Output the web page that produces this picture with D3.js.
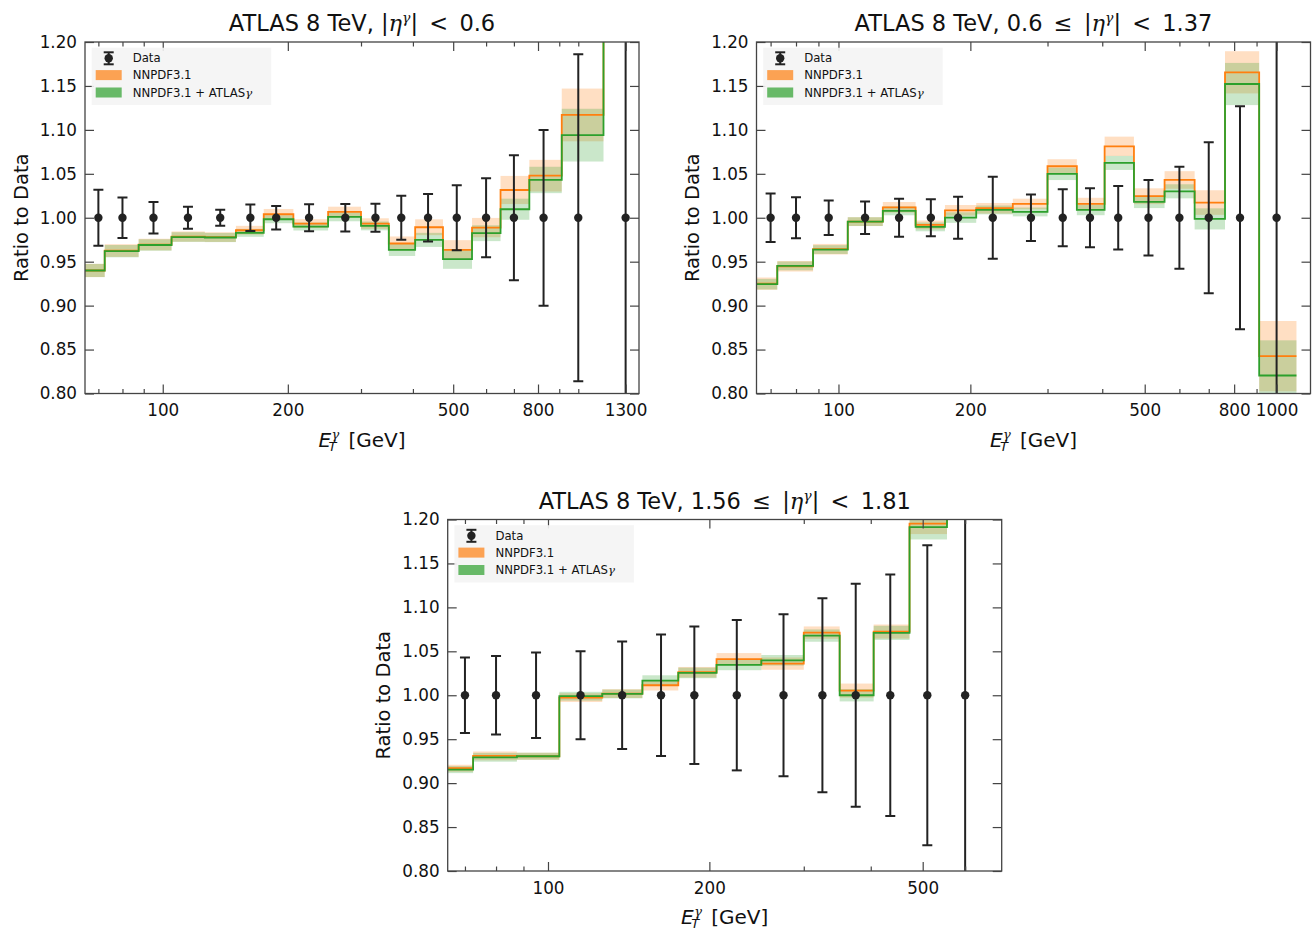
<!DOCTYPE html>
<html>
<head>
<meta charset="utf-8">
<script src="https://cdn.jsdelivr.net/npm/d3@7"></script>
<style>
  html, body { margin: 0; padding: 0; background: #fff; }
  svg { display: block; }
  text { font-family: "DejaVu Sans", sans-serif; fill: #111; }
</style>
</head>
<body>
<svg id="chart" width="1313" height="931"></svg>
<script>
// ---------------- data ----------------
const yTickValues = [0.80, 0.85, 0.90, 0.95, 1.00, 1.05, 1.10, 1.15, 1.20];
const legendLabels = ["Data", "NNPDF3.1", "NNPDF3.1 + ATLAS"];

// Panel 1: |eta| < 0.6
const p1Title = ["ATLAS 8 TeV, |", "|\u2002<\u20020.6"];
const p1X = [70, 80, 95, 115, 137.5, 162.5, 187.5, 225, 275, 325, 375, 435, 510, 600, 700, 825, 1000, 1300];
const p1Edges = [65, 72.5, 87.5, 105, 126.25, 150, 175, 206.25, 250, 300, 350, 405, 472.5, 555, 650, 762.5, 912.5, 1150, 1400];
const p1Data = [1, 1, 1, 1, 1, 1, 1, 1, 1, 1, 1, 1, 1, 1, 1, 1, 1, 1];
const p1DataErr = [0.032, 0.023, 0.018, 0.0125, 0.009, 0.015, 0.0135, 0.0155, 0.0157, 0.016, 0.025, 0.027, 0.037, 0.045, 0.071, 0.100, 0.186, 0.6];
const p1Nnpdf = [0.940, 0.9627, 0.9695, 0.9786, 0.978, 0.9858, 1.004, 0.9934, 1.0066, 0.9934, 0.9707, 0.9892, 0.9635, 0.9888, 1.0316, 1.0479, 1.117, 1.32];
const p1NnpdfErr = [0.0075, 0.0072, 0.0066, 0.0058, 0.0055, 0.005, 0.006, 0.005, 0.006, 0.006, 0.008, 0.009, 0.011, 0.011, 0.016, 0.018, 0.030, 0.04];
const p1Atlas = [0.940, 0.962, 0.969, 0.978, 0.9775, 0.9828, 0.9983, 0.990, 1.001, 0.9907, 0.9635, 0.9748, 0.9529, 0.9824, 1.0097, 1.043, 1.094, 1.30];
const p1AtlasErr = [0.0075, 0.007, 0.0065, 0.0055, 0.0052, 0.0045, 0.0045, 0.0045, 0.005, 0.005, 0.007, 0.008, 0.011, 0.009, 0.012, 0.015, 0.030, 0.04];
const p1XTicks = [100, 200, 500, 800, 1300];
const p1XMinor = [70, 80, 90, 300, 400, 600, 700, 900, 1000];
const p1XDomain = [65, 1400];

// Panel 2: 0.6 <= |eta| < 1.37
const p2Title = ["ATLAS 8 TeV, 0.6\u2002≤\u2002|", "|\u2002<\u20021.37"];
const p2X = [70, 80, 95, 115, 137.5, 162.5, 187.5, 225, 275, 325, 375, 435, 510, 600, 700, 825, 1000];
const p2Edges = [65, 72.5, 87.5, 105, 126.25, 150, 175, 206.25, 250, 300, 350, 405, 472.5, 555, 650, 762.5, 912.5, 1110];
const p2Data = [1, 1, 1, 1, 1, 1, 1, 1, 1, 1, 1, 1, 1, 1, 1, 1, 1];
const p2DataErr = [0.0275, 0.0233, 0.0197, 0.0186, 0.0216, 0.021, 0.024, 0.0466, 0.0266, 0.0324, 0.0336, 0.036, 0.043, 0.058, 0.086, 0.127, 0.6];
const p2Nnpdf = [0.925, 0.9448, 0.9642, 0.9956, 1.0119, 0.9918, 1.0085, 1.0108, 1.0157, 1.0586, 1.0157, 1.0813, 1.0245, 1.043, 1.0173, 1.1655, 0.8425];
const p2NnpdfErr = [0.007, 0.006, 0.006, 0.005, 0.006, 0.005, 0.006, 0.006, 0.006, 0.008, 0.007, 0.011, 0.009, 0.010, 0.014, 0.024, 0.040];
const p2Atlas = [0.9244, 0.9452, 0.9638, 0.9956, 1.0078, 0.9896, 1.0002, 1.0089, 1.0066, 1.0499, 1.0089, 1.0624, 1.018, 1.0301, 0.9987, 1.1522, 0.8205];
const p2AtlasErr = [0.006, 0.005, 0.005, 0.005, 0.005, 0.005, 0.006, 0.005, 0.005, 0.007, 0.006, 0.008, 0.007, 0.008, 0.012, 0.024, 0.040];
const p2XTicks = [100, 200, 500, 800, 1000];
const p2XMinor = [70, 80, 90, 300, 400, 600, 700, 900];
const p2XDomain = [65, 1195];

// Panel 3: 1.56 <= |eta| < 1.81
const p3Title = ["ATLAS 8 TeV, 1.56\u2002≤\u2002|", "|\u2002<\u20021.81"];
const p3X = [70, 80, 95, 115, 137.5, 162.5, 187.5, 225, 275, 325, 375, 435, 510, 600];
const p3Edges = [65, 72.5, 87.5, 105, 126.25, 150, 175, 206.25, 250, 300, 350, 405, 472.5, 555, 705];
const p3Data = [1, 1, 1, 1, 1, 1, 1, 1, 1, 1, 1, 1, 1, 1];
const p3DataErr = [0.043, 0.0446, 0.0487, 0.050, 0.0611, 0.069, 0.0782, 0.0855, 0.0922, 0.1104, 0.1268, 0.1374, 0.1708, 0.6];
const p3Nnpdf = [0.9169, 0.931, 0.9306, 0.9973, 1.0019, 1.0114, 1.0262, 1.041, 1.036, 1.0713, 1.0053, 1.0725, 1.1954, 1.30];
const p3NnpdfErr = [0.004, 0.005, 0.004, 0.005, 0.005, 0.006, 0.006, 0.007, 0.007, 0.007, 0.008, 0.008, 0.012, 0.02];
const p3Atlas = [0.9154, 0.9294, 0.9306, 0.9989, 1.0015, 1.0167, 1.0254, 1.0345, 1.0398, 1.0679, 1.0, 1.071, 1.1913, 1.28];
const p3AtlasErr = [0.004, 0.005, 0.004, 0.005, 0.005, 0.006, 0.006, 0.006, 0.006, 0.007, 0.007, 0.008, 0.014, 0.02];
const p3XTicks = [100, 200, 500];
const p3XMinor = [70, 80, 90, 300, 400, 600];
const p3XDomain = [65, 702];

// ---------------- styles ----------------
const C_ORANGE = "#ff7f0e", C_GREEN = "#2ca02c", C_DATA = "#222222";
const C_AXIS = "#444444";
const PW = 554, PH = 351.5;
const FONT = "'DejaVu Sans', sans-serif";
const MATH = "'DejaVu Serif', serif";

const svg = d3.select("#chart");
let clipId = 0;

function measure(str, size, family, style) {
  const t = svg.append("text").style("font-size", size + "px").style("font-family", family)
    .style("font-style", style).text(str);
  const w = t.node().getComputedTextLength();
  t.remove();
  return w;
}

function panel(opts) {
  const {left, top, title, xs, edges, data, dataErr, nnpdf, nnpdfErr, atlas, atlasErr, xTicks, xMinor, xDomain} = opts;
  const g = svg.append("g").attr("transform", `translate(${left},${top})`);
  const x = d3.scaleLog().domain(xDomain).range([0, PW]);
  const y = d3.scaleLinear().domain([0.80, 1.20]).range([PH, 0]);

  const cid = "clip" + (clipId++);
  g.append("clipPath").attr("id", cid).append("rect").attr("width", PW).attr("height", PH);
  const plot = g.append("g").attr("clip-path", `url(#${cid})`);

  // bands
  function bands(vals, errs, color) {
    plot.append("g").selectAll("rect").data(vals).join("rect")
      .attr("x", (d, i) => x(edges[i]))
      .attr("width", (d, i) => x(edges[i + 1]) - x(edges[i]))
      .attr("y", (d, i) => y(d + errs[i]))
      .attr("height", (d, i) => y(d - errs[i]) - y(d + errs[i]))
      .attr("fill", color).attr("fill-opacity", 0.25);
  }
  bands(nnpdf, nnpdfErr, C_ORANGE);
  bands(atlas, atlasErr, C_GREEN);

  // step lines
  const line = d3.line().x(d => x(d[0])).y(d => y(d[1])).curve(d3.curveStepAfter);
  function steps(vals, color) {
    const pts = vals.map((v, i) => [edges[i], v]);
    pts.push([edges[vals.length], vals[vals.length - 1]]);
    plot.append("path").attr("d", line(pts)).attr("fill", "none")
      .attr("stroke", color).attr("stroke-width", 1.8);
  }
  steps(nnpdf, C_ORANGE);
  steps(atlas, C_GREEN);

  // data points with error bars
  const dg = plot.append("g");
  const cap = 5;
  xs.forEach((xv, i) => {
    const cx = x(xv);
    const y1 = y(data[i] + dataErr[i]), y0 = y(data[i] - dataErr[i]);
    dg.append("line").attr("x1", cx).attr("x2", cx).attr("y1", y1).attr("y2", y0)
      .attr("stroke", C_DATA).attr("stroke-width", 2);
    [y1, y0].forEach(yy => dg.append("line").attr("x1", cx - cap).attr("x2", cx + cap)
      .attr("y1", yy).attr("y2", yy).attr("stroke", C_DATA).attr("stroke-width", 2));
    dg.append("circle").attr("cx", cx).attr("cy", y(data[i])).attr("r", 4.2).attr("fill", C_DATA);
  });

  // axes (inward ticks on all sides)
  function styleAxis(sel) {
    sel.select(".domain").remove();
    sel.selectAll(".tick line").attr("stroke", C_AXIS).attr("stroke-width", 1.2);
    sel.selectAll(".tick text").style("font-family", FONT).style("font-size", "16.8px").attr("fill", "#111");
  }
  g.append("g").attr("transform", `translate(0,${PH})`)
    .call(d3.axisBottom(x).tickValues(xTicks).tickSize(-9).tickPadding(11).tickFormat(d3.format("d")))
    .call(styleAxis);
  g.append("g").attr("transform", `translate(0,${PH})`)
    .call(d3.axisBottom(x).tickValues(xMinor).tickSize(-4.5).tickFormat(""))
    .call(styleAxis);
  g.append("g")
    .call(d3.axisTop(x).tickValues(xTicks).tickSize(-9).tickFormat(""))
    .call(styleAxis);
  g.append("g")
    .call(d3.axisTop(x).tickValues(xMinor).tickSize(-4.5).tickFormat(""))
    .call(styleAxis);
  g.append("g")
    .call(d3.axisLeft(y).tickValues(yTickValues).tickSize(-9).tickPadding(8).tickFormat(d3.format(".2f")))
    .call(styleAxis);
  g.append("g").attr("transform", `translate(${PW},0)`)
    .call(d3.axisRight(y).tickValues(yTickValues).tickSize(-9).tickFormat(""))
    .call(styleAxis);

  g.append("rect").attr("width", PW).attr("height", PH).attr("fill", "none")
    .attr("stroke", C_AXIS).attr("stroke-width", 1.3);

  // title
  const t = g.append("text").attr("x", PW / 2).attr("y", -11).attr("text-anchor", "middle")
    .style("font-size", "22.5px");
  t.append("tspan").text(title[0]);
  t.append("tspan").text("η").style("font-family", MATH).style("font-style", "italic");
  t.append("tspan").text("γ").attr("dy", -8).style("font-size", "14px")
    .style("font-family", MATH).style("font-style", "italic");
  t.append("tspan").text(title[1]).attr("dy", 8);

  // y label
  g.append("text").attr("transform", `translate(-57.5,${PH / 2}) rotate(-90)`)
    .attr("text-anchor", "middle").style("font-size", "19.5px").text("Ratio to Data");

  // x label E_T^gamma [GeV] as one text element
  const wG = measure("γ", 13, MATH, "italic");
  const xl = g.append("text").attr("x", PW / 2).attr("y", PH + 53).attr("text-anchor", "middle")
    .style("font-size", "20px");
  xl.append("tspan").text("E").style("font-style", "italic");
  xl.append("tspan").text("γ").attr("dx", 0.5).attr("dy", -8).style("font-size", "13px")
    .style("font-family", MATH).style("font-style", "italic");
  xl.append("tspan").text("T").attr("dx", -wG - 3).attr("dy", 12).style("font-size", "13px")
    .style("font-style", "italic");
  xl.append("tspan").text("[GeV]").attr("dx", 12).attr("dy", -4);

  // legend
  const lg = g.append("g").attr("transform", "translate(6.7,5.7)");
  lg.append("rect").attr("width", 179.5).attr("height", 57.3).attr("fill", "#f4f4f4").attr("fill-opacity", 0.9);
  const rowY = [10.6, 27.4, 44.8];
  const sx = 17;
  lg.append("line").attr("x1", sx).attr("x2", sx).attr("y1", rowY[0] - 6).attr("y2", rowY[0] + 6)
    .attr("stroke", C_DATA).attr("stroke-width", 2);
  [rowY[0] - 6, rowY[0] + 6].forEach(yy => lg.append("line").attr("x1", sx - 5).attr("x2", sx + 5)
    .attr("y1", yy).attr("y2", yy).attr("stroke", C_DATA).attr("stroke-width", 2));
  lg.append("circle").attr("cx", sx).attr("cy", rowY[0]).attr("r", 4.2).attr("fill", C_DATA);
  lg.append("rect").attr("x", 4).attr("y", rowY[1] - 5).attr("width", 26).attr("height", 10)
    .attr("fill", C_ORANGE).attr("fill-opacity", 0.7);
  lg.append("rect").attr("x", 4).attr("y", rowY[2] - 5).attr("width", 26).attr("height", 10)
    .attr("fill", C_GREEN).attr("fill-opacity", 0.7);
  legendLabels.forEach((lab, i) => {
    const tx = lg.append("text").attr("x", 41).attr("y", rowY[i] + 4.2).style("font-size", "11.7px").text(lab);
    if (i === 2) tx.append("tspan").text("γ").style("font-family", MATH).style("font-style", "italic");
  });
}

panel({left: 85, top: 42, title: p1Title, xs: p1X, edges: p1Edges, data: p1Data, dataErr: p1DataErr,
  nnpdf: p1Nnpdf, nnpdfErr: p1NnpdfErr, atlas: p1Atlas, atlasErr: p1AtlasErr,
  xTicks: p1XTicks, xMinor: p1XMinor, xDomain: p1XDomain});
panel({left: 756.5, top: 42, title: p2Title, xs: p2X, edges: p2Edges, data: p2Data, dataErr: p2DataErr,
  nnpdf: p2Nnpdf, nnpdfErr: p2NnpdfErr, atlas: p2Atlas, atlasErr: p2AtlasErr,
  xTicks: p2XTicks, xMinor: p2XMinor, xDomain: p2XDomain});
panel({left: 447.7, top: 519.5, title: p3Title, xs: p3X, edges: p3Edges, data: p3Data, dataErr: p3DataErr,
  nnpdf: p3Nnpdf, nnpdfErr: p3NnpdfErr, atlas: p3Atlas, atlasErr: p3AtlasErr,
  xTicks: p3XTicks, xMinor: p3XMinor, xDomain: p3XDomain});
</script>
</body>
</html>
